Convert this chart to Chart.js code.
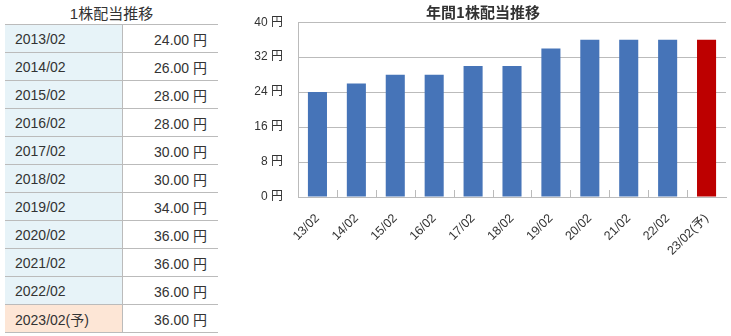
<!DOCTYPE html>
<html>
<head>
<meta charset="utf-8">
<script src="https://cdn.jsdelivr.net/npm/chart.js@4"></script>
<style>
  body { margin: 0; background: #fff; font-family: "Liberation Sans", "Noto Sans CJK JP", sans-serif; color: #333; }
  #wrap { position: relative; width: 731px; height: 336px; overflow: hidden; }
  #tblTitle { position: absolute; left: 5px; top: 3px; width: 213px; text-align: center; font-size: 15px; line-height: 22px; }
  table { position: absolute; left: 5px; top: 24px; width: 213px; border-collapse: collapse; font-size: 14px; }
  td { height: 27px; padding: 0; border-bottom: 1px solid #bbb; }
  td.y { width: 117px; background: #e7f3f8; padding-left: 10px; box-sizing: border-box; border-right: 1px solid #bbb; }
  td.v { text-align: right; padding-right: 11px; }
  tr:first-child td { border-top: 1px solid #bbb; }
  tr.yo td.y { background: #fde6d6; }
  #grafico { position: absolute; left: 240px; top: 0; }
</style>
</head>
<body>
<div id="wrap">
  <div id="tblTitle">1株配当推移</div>
  <table id="tabela"></table>
  <canvas id="grafico" width="491" height="336"></canvas>
</div>
<script>
const anos = ['2013/02', '2014/02', '2015/02', '2016/02', '2017/02', '2018/02', '2019/02', '2020/02', '2021/02', '2022/02', '2023/02(予)'];
const categorias = ['13/02', '14/02', '15/02', '16/02', '17/02', '18/02', '19/02', '20/02', '21/02', '22/02', '23/02(予)'];
const dividendos = [24, 26, 28, 28, 30, 30, 34, 36, 36, 36, 36];
const previsao = [false, false, false, false, false, false, false, false, false, false, true];

const AZUL = '#4674b8';
const VERMELHO = '#bd0000';
const FONTE = '"Liberation Sans", "Noto Sans CJK JP", sans-serif';

function montarTabela() {
  const tabela = document.getElementById('tabela');
  anos.forEach((ano, i) => {
    const tr = document.createElement('tr');
    if (previsao[i]) tr.className = 'yo';
    tr.innerHTML = `<td class="y">${ano}</td><td class="v">${dividendos[i].toFixed(2)} 円</td>`;
    tabela.appendChild(tr);
  });
}

// small tick marks between categories, drawn upward from the x axis
const marcasX = {
  id: 'marcasX',
  afterDatasetsDraw(chart) {
    const x = chart.scales.x;
    const ctx = chart.ctx;
    const base = chart.chartArea.bottom;
    ctx.save();
    ctx.strokeStyle = '#bbb';
    ctx.lineWidth = 1;
    for (let i = 0; i < categorias.length - 1; i++) {
      const px = Math.round((x.getPixelForValue(i) + x.getPixelForValue(i + 1)) / 2) + 0.5;
      ctx.beginPath();
      ctx.moveTo(px, base);
      ctx.lineTo(px, base - 7);
      ctx.stroke();
    }
    ctx.restore();
  }
};

function montarGrafico() {
  const ctx = document.getElementById('grafico').getContext('2d');
  new Chart(ctx, {
    type: 'bar',
    data: {
      labels: categorias,
      datasets: [{
        data: dividendos,
        backgroundColor: previsao.map(p => p ? VERMELHO : AZUL),
        barPercentage: 0.49,
        categoryPercentage: 1
      }]
    },
    options: {
      responsive: false,
      animation: false,
      devicePixelRatio: 1,
      layout: { padding: { left: 0, right: 5, top: 0, bottom: 0 } },
      plugins: {
        legend: { display: false },
        tooltip: { enabled: false },
        title: {
          display: true,
          text: '年間1株配当推移',
          color: '#333',
          font: { size: 15, weight: 'bold', family: '"Noto Sans CJK JP", sans-serif' },
          padding: { top: 3, bottom: 1 }
        }
      },
      scales: {
        x: {
          grid: { display: false },
          border: { color: '#bbb' },
          ticks: {
            color: '#333',
            maxRotation: 45,
            minRotation: 45,
            autoSkip: false,
            padding: 6,
            font: { size: 12.5, family: FONTE }
          },
          afterFit(scale) { scale.height = 139; }
        },
        y: {
          min: 0,
          max: 40,
          ticks: {
            stepSize: 8,
            color: '#333',
            padding: 15,
            font: { size: 12, family: FONTE },
            callback: v => v + ' 円'
          },
          grid: { color: '#bbb', drawTicks: false },
          border: { color: '#bbb' },
          afterFit(scale) { scale.width = 58; }
        }
      }
    },
    plugins: [marcasX]
  });
}

document.addEventListener('DOMContentLoaded', () => {
  montarTabela();
  montarGrafico();
});
</script>
</body>
</html>
